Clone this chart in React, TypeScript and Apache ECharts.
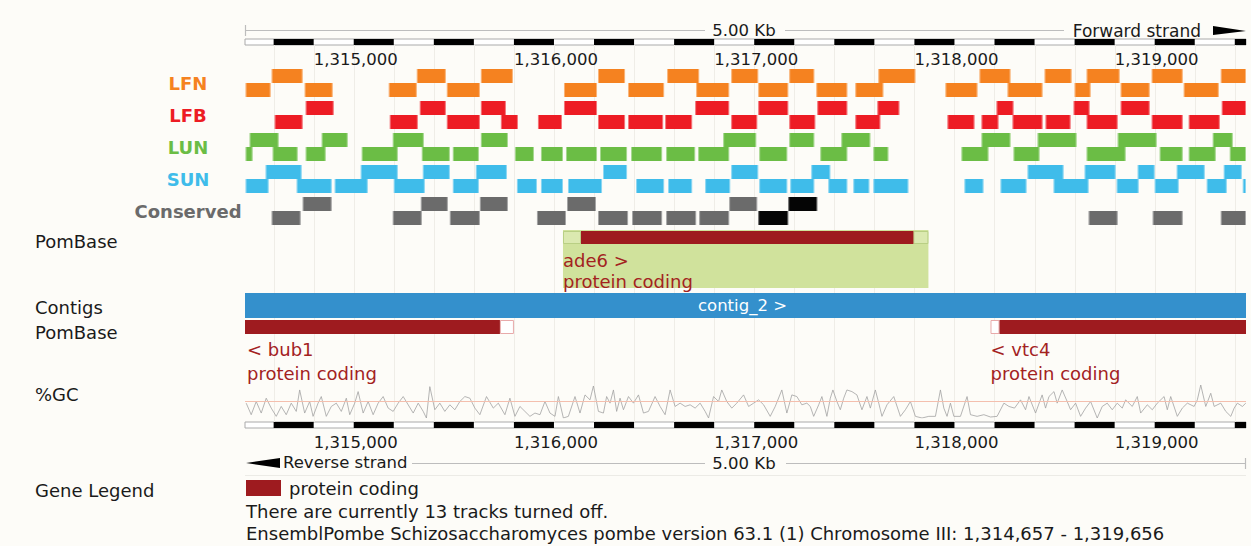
import React, { useEffect, useRef } from "react";
import * as echarts from "echarts";

const FONT = '"DejaVu Sans", sans-serif';
const VIEW_START = 1314657;
const VIEW_END = 1319656;
const tickLabels = [1315000, 1316000, 1317000, 1318000, 1319000];
const rulerBlackStarts = [1314800, 1315200, 1315600, 1316000, 1316400, 1316800, 1317200, 1317600, 1318000, 1318400, 1318800, 1319200, 1319600];
const RULER_STEP = 200;

const trackNames = ["LFN", "LFB", "LUN", "SUN", "Conserved"];
const trackColors = ["#f58220", "#ed1c24", "#6bbd45", "#3fbcea", "#6b6b6b"];
const conservedHighColor = "#050505";

// [start, end, row(0 upper / 1 lower)]
const lfnBlocks = [
  [1314790, 1314945, 0], [1315515, 1315660, 0], [1315835, 1315995, 0], [1316420, 1316555, 0], [1316765, 1316925, 0],
  [1317085, 1317220, 0], [1317375, 1317500, 0], [1317820, 1318005, 0], [1318325, 1318480, 0], [1318650, 1318785, 0],
  [1318860, 1319025, 0], [1319185, 1319340, 0], [1319530, 1319656, 0],
  [1314660, 1314785, 1], [1314955, 1315095, 1], [1315375, 1315515, 1], [1315665, 1315830, 1], [1316250, 1316415, 1],
  [1316570, 1316750, 1], [1316910, 1317075, 1], [1317220, 1317370, 1], [1317510, 1317665, 1], [1317705, 1317845, 1],
  [1318155, 1318315, 1], [1318465, 1318640, 1], [1318800, 1318880, 1], [1319030, 1319175, 1], [1319345, 1319520, 1],
];
const lfbBlocks = [
  [1314960, 1315100, 0], [1315530, 1315660, 0], [1315835, 1315960, 0], [1316250, 1316415, 0], [1316905, 1317075, 0],
  [1317220, 1317370, 0], [1317515, 1317665, 0], [1317815, 1317925, 0], [1318410, 1318495, 0], [1318795, 1318875, 0],
  [1319030, 1319175, 0], [1319535, 1319656, 0],
  [1314805, 1314945, 1], [1315380, 1315520, 1], [1315665, 1315830, 1], [1315935, 1316020, 1], [1316120, 1316240, 1],
  [1316420, 1316555, 1], [1316570, 1316745, 1], [1316755, 1316890, 1], [1317085, 1317215, 1], [1317375, 1317505, 1],
  [1317705, 1317830, 1], [1318165, 1318300, 1], [1318335, 1318420, 1], [1318490, 1318640, 1], [1318655, 1318780, 1],
  [1318860, 1319015, 1], [1319185, 1319340, 1], [1319370, 1319525, 1],
];
const lunBlocks = [
  [1314680, 1314825, 0], [1315040, 1315170, 0], [1315395, 1315550, 0], [1315835, 1315970, 0], [1317045, 1317210, 0],
  [1317375, 1317500, 0], [1317635, 1317780, 0], [1318335, 1318480, 0], [1318615, 1318810, 0], [1319015, 1319210, 0],
  [1319490, 1319590, 0],
  [1314660, 1314695, 1], [1314795, 1314920, 1], [1314960, 1315060, 1], [1315240, 1315420, 1], [1315540, 1315680, 1],
  [1315695, 1315825, 1], [1316005, 1316100, 1], [1316135, 1316245, 1], [1316260, 1316415, 1], [1316430, 1316565, 1],
  [1316585, 1316740, 1], [1316760, 1316905, 1], [1316920, 1317075, 1], [1317225, 1317365, 1], [1317530, 1317665, 1],
  [1317795, 1317870, 1], [1318235, 1318370, 1], [1318495, 1318625, 1], [1318860, 1319055, 1], [1319225, 1319340, 1],
  [1319370, 1319505, 1], [1319575, 1319656, 1],
];
const sunBlocks = [
  [1314760, 1314940, 0], [1315235, 1315420, 0], [1315545, 1315680, 0], [1315810, 1315965, 0], [1316445, 1316565, 0],
  [1317085, 1317220, 0], [1317485, 1317580, 0], [1318565, 1318745, 0], [1318850, 1319005, 0], [1319115, 1319200, 0],
  [1319310, 1319450, 0], [1319545, 1319635, 0],
  [1314660, 1314775, 1], [1314915, 1315090, 1], [1315105, 1315270, 1], [1315400, 1315555, 1], [1315695, 1315825, 1],
  [1316015, 1316115, 1], [1316135, 1316245, 1], [1316270, 1316440, 1], [1316610, 1316750, 1], [1316770, 1316890, 1],
  [1316955, 1317080, 1], [1317225, 1317365, 1], [1317380, 1317500, 1], [1317570, 1317665, 1], [1317695, 1317775, 1],
  [1317795, 1317970, 1], [1318250, 1318345, 1], [1318430, 1318560, 1], [1318695, 1318870, 1], [1319010, 1319120, 1],
  [1319200, 1319320, 1], [1319460, 1319560, 1], [1319640, 1319656, 1],
];
// [start, end, row, level(1 normal / 2 high)]
const conservedBlocks = [
  [1314945, 1315090, 0, 1], [1315535, 1315670, 0, 1], [1315830, 1315970, 0, 1], [1316265, 1316410, 0, 1],
  [1317075, 1317215, 0, 1], [1317370, 1317515, 0, 2],
  [1314790, 1314935, 1, 1], [1315395, 1315540, 1, 1], [1315680, 1315830, 1, 1], [1316115, 1316260, 1, 1],
  [1316420, 1316570, 1, 1], [1316590, 1316740, 1, 1], [1316760, 1316910, 1, 1], [1316925, 1317075, 1, 1],
  [1317220, 1317370, 1, 2], [1318870, 1319015, 1, 1], [1319190, 1319340, 1, 1], [1319530, 1319656, 1, 1],
];
const trackBlocks = [lfnBlocks, lfbBlocks, lunBlocks, sunBlocks, conservedBlocks];

// genes: [start, end, cdsStart, cdsEnd]
const forwardGeneNames = ["ade6"];
const forwardGeneBiotypes = ["protein coding"];
const forwardGenes = [[1316245, 1318070, 1316335, 1317995]];
const reverseGeneNames = ["bub1", "vtc4"];
const reverseGeneBiotypes = ["protein coding", "protein coding"];
const reverseGenes = [
  [1314300, 1316000, 1314300, 1315930],
  [1318380, 1320300, 1318425, 1320300],
];
const contigNames = ["contig_2"];
const contigs = [[1300000, 1330000]];

// [position, %GC]
const gcPoints = [
  [1314663, 45], [1314688, 10], [1314713, 50], [1314738, 15], [1314763, 60], [1314788, 30], [1314813, 5], [1314838, 35],
  [1314863, 10], [1314888, 45], [1314913, 20], [1314930, 85], [1314955, 15], [1314980, 50], [1314997, 5], [1315022, 45],
  [1315038, 65], [1315063, 5], [1315088, 35], [1315113, 45], [1315138, 20], [1315163, 60], [1315180, 10], [1315205, 45],
  [1315222, 80], [1315247, 15], [1315272, 50], [1315297, 10], [1315322, 45], [1315347, 65], [1315372, 30], [1315397, 20],
  [1315422, 45], [1315447, 65], [1315472, 40], [1315497, 15], [1315522, 45], [1315547, 20], [1315563, 0], [1315580, 95],
  [1315605, 25], [1315630, 45], [1315655, 20], [1315680, 40], [1315705, 25], [1315730, 50], [1315755, 65], [1315780, 60],
  [1315805, 30], [1315830, 10], [1315863, 65], [1315897, 30], [1315922, 45],
  [1315955, 10], [1315980, 60], [1316005, 5], [1316030, 35], [1316055, 20], [1316080, 5], [1316105, 15], [1316130, 10],
  [1316155, 50], [1316180, 15], [1316205, 5], [1316222, 65], [1316247, 0], [1316272, 5], [1316305, 65], [1316330, 15],
  [1316355, 70], [1316380, 55], [1316397, 97], [1316422, 20], [1316447, 15], [1316463, 65], [1316480, 45], [1316497, 85],
  [1316513, 20], [1316530, 60], [1316547, 25], [1316572, 65], [1316597, 45], [1316622, 70], [1316647, 15], [1316672, 20],
  [1316705, 65], [1316730, 35], [1316755, 10], [1316780, 85], [1316805, 35], [1316830, 45], [1316855, 35], [1316880, 40],
  [1316905, 30], [1316930, 45], [1316955, 20], [1316972, 0], [1316997, 65], [1317022, 50], [1317038, 85], [1317063, 50],
  [1317088, 30], [1317113, 45], [1317147, 70], [1317172, 35],
  [1317197, 45], [1317222, 55], [1317247, 40], [1317280, 5], [1317305, 35], [1317338, 85], [1317363, 15], [1317388, 70],
  [1317413, 65], [1317438, 40], [1317463, 45], [1317480, 35], [1317497, 5], [1317522, 40], [1317538, 65], [1317563, 5],
  [1317580, 60], [1317593, 85], [1317613, 50], [1317630, 25], [1317647, 60], [1317663, 85], [1317688, 80], [1317713, 70],
  [1317738, 25], [1317763, 65], [1317780, 30], [1317805, 85], [1317822, 45], [1317838, 5], [1317863, 40], [1317897, 65],
  [1317930, 5], [1317955, 25], [1317980, 50], [1318005, 5], [1318038, 0], [1318072, 5], [1318105, 5], [1318130, 85],
  [1318147, 30], [1318163, 5], [1318180, 45], [1318197, 5], [1318230, 5], [1318263, 65], [1318280, 10], [1318313, 5],
  [1318347, 10], [1318380, 3], [1318413, 5], [1318447, 45], [1318472, 35],
  [1318500, 30], [1318530, 55], [1318555, 25], [1318572, 65], [1318605, 15], [1318638, 70], [1318655, 30], [1318672, 65],
  [1318697, 80], [1318713, 45], [1318738, 85], [1318763, 50], [1318780, 25], [1318805, 45], [1318830, 5], [1318855, 30],
  [1318880, 50], [1318913, 0], [1318938, 35], [1318963, 45], [1318988, 25], [1319013, 45], [1319038, 30], [1319055, 55],
  [1319088, 35], [1319113, 65], [1319130, 15], [1319163, 40], [1319188, 25], [1319213, 45], [1319247, 65], [1319263, 25],
  [1319280, 65], [1319313, 5], [1319338, 30], [1319363, 45], [1319397, 35], [1319413, 55], [1319430, 100], [1319455, 35],
  [1319480, 75], [1319497, 35], [1319530, 45], [1319555, 20], [1319580, 5], [1319597, 30], [1319613, 45], [1319638, 35],
  [1319655, 45],
];
const GC_REFERENCE = 50;

const fmt = (v: number) => Math.round(v).toLocaleString("en-US");
const GENE_RED = "#9e1b1f";
const GENE_TEXT = "#a3221f";

export default function App() {
  const ref = useRef<HTMLDivElement>(null);
  useEffect(() => {
    if (!ref.current) return;
    const chart = echarts.init(ref.current, undefined, { renderer: "svg" });

    const L = 245;
    const W = 1001;
    const grids = [
      { left: L, width: W, top: 39, height: 6, show: true, backgroundColor: "#ffffff", borderColor: "#aaaaaa", borderWidth: 1 }, // 0 top ruler
      { left: L, width: W, top: 67, height: 160 }, // 1 tracks
      { left: L, width: W, top: 231, height: 13 }, // 2 forward genes
      { left: L, width: W, top: 293, height: 25 }, // 3 contigs
      { left: L, width: W, top: 320, height: 14 }, // 4 reverse genes
      { left: L, width: W, top: 385, height: 33 }, // 5 GC
      { left: L, width: W, top: 422, height: 6, show: true, backgroundColor: "#ffffff", borderColor: "#aaaaaa", borderWidth: 1 }, // 6 bottom ruler
      { left: L, width: W, top: 45, height: 377 }, // 7 background lines
    ];

    const hiddenX = (gridIndex: number) => ({ type: "value", gridIndex, min: VIEW_START, max: VIEW_END, show: false });
    const rulerX = (gridIndex: number, margin: number) => ({
      type: "value", gridIndex, min: VIEW_START, max: VIEW_END, position: "bottom",
      axisLine: { show: false }, axisTick: { show: false }, splitLine: { show: false },
      axisLabel: { customValues: tickLabels, formatter: fmt, align: "left", margin, fontSize: 16.5, color: "#1a1a1a", fontFamily: FONT },
    });
    const hiddenY = (gridIndex: number, min = 0, max = 1) => ({ type: "value", gridIndex, min, max, show: false });

    const xAxis = [rulerX(0, 6), hiddenX(1), hiddenX(2), hiddenX(3), hiddenX(4), hiddenX(5), rulerX(6, 6), hiddenX(7)];
    const yAxis = [
      hiddenY(0),
      {
        type: "category", gridIndex: 1, inverse: true,
        data: trackNames,
        axisLine: { show: false }, axisTick: { show: false }, splitLine: { show: false },
        axisLabel: {
          margin: 57, align: "center", fontWeight: "bold", fontSize: 18, fontFamily: FONT,
          color: (_v: any, idx: number) => trackColors[idx],
        },
      },
      hiddenY(2), hiddenY(3), hiddenY(4), hiddenY(5, 0, 100), hiddenY(6), hiddenY(7),
    ];

    const clampX = (cs: any, px: number) => Math.max(cs.x, Math.min(cs.x + cs.width, px));

    const rulerRender = (params: any, api: any) => {
      const cs = params.coordSys;
      const x0 = clampX(cs, api.coord([api.value(0), 0])[0]);
      const x1 = clampX(cs, api.coord([api.value(1), 0])[0]);
      if (x1 - x0 <= 0) return null;
      return { type: "rect", shape: { x: x0, y: cs.y, width: x1 - x0, height: cs.height }, style: { fill: "#000" } };
    };

    const gridLinePositions = rulerBlackStarts.flatMap((s) => [s, s + RULER_STEP]).filter((v) => v > VIEW_START && v < VIEW_END);

    const bgLineRender = (params: any, api: any) => {
      const cs = params.coordSys;
      const x = Math.round(api.coord([api.value(0), 0])[0]) + 0.5;
      return { type: "line", shape: { x1: x, y1: cs.y, x2: x, y2: cs.y + cs.height }, style: { stroke: "#efede7", lineWidth: 1 } };
    };

    const trackRender = (trackIdx: number) => (params: any, api: any) => {
      const cs = params.coordSys;
      const s = api.value(0), e = api.value(1), row = api.value(2), lvl = api.value(3);
      const p0 = api.coord([s, trackIdx]);
      const p1 = api.coord([e, trackIdx]);
      const x0 = clampX(cs, p0[0]);
      const x1 = clampX(cs, p1[0]);
      const cy = p0[1];
      const y = row === 0 ? cy - 14 : cy;
      const fill = lvl === 2 ? conservedHighColor : trackColors[trackIdx];
      return {
        type: "group",
        children: [
          { type: "rect", shape: { x: x0, y, width: x1 - x0, height: 14 }, style: { fill } },
          { type: "line", shape: { x1: x0 + 0.5, y1: y, x2: x0 + 0.5, y2: y + 14 }, style: { stroke: "rgba(255,255,255,0.4)", lineWidth: 1 } },
          { type: "line", shape: { x1: x1 - 0.5, y1: y, x2: x1 - 0.5, y2: y + 14 }, style: { stroke: "rgba(255,255,255,0.4)", lineWidth: 1 } },
        ],
      };
    };

    const forwardGeneRender = (params: any, api: any) => {
      const cs = params.coordSys;
      const i = params.dataIndex;
      const xs = clampX(cs, api.coord([api.value(0), 0])[0]);
      const xe = clampX(cs, api.coord([api.value(1), 0])[0]);
      const xc0 = clampX(cs, api.coord([api.value(2), 0])[0]);
      const xc1 = clampX(cs, api.coord([api.value(3), 0])[0]);
      const y = cs.y, h = cs.height;
      const tx = Math.max(xs, cs.x + 2);
      return {
        type: "group",
        children: [
          { type: "rect", shape: { x: xs, y: y - 1, width: xe - xs, height: 58 }, style: { fill: "#d0e29c" } },
          { type: "rect", shape: { x: xs + 0.5, y: y + 0.5, width: xc0 - xs - 1, height: h - 1 }, style: { fill: "#dbe9b0", stroke: "#b9cf84", lineWidth: 1 } },
          { type: "rect", shape: { x: xc1 + 0.5, y: y + 0.5, width: xe - xc1 - 1, height: h - 1 }, style: { fill: "#dbe9b0", stroke: "#b9cf84", lineWidth: 1 } },
          { type: "rect", shape: { x: xc0, y, width: xc1 - xc0, height: h }, style: { fill: GENE_RED } },
          { type: "text", style: { x: tx, y: y + h / 2 + 23, text: forwardGeneNames[i] + " >", fill: GENE_TEXT, fontSize: 18, fontFamily: FONT, verticalAlign: "middle", align: "left" } },
          { type: "text", style: { x: tx, y: y + h / 2 + 44, text: forwardGeneBiotypes[i], fill: GENE_TEXT, fontSize: 18, fontFamily: FONT, verticalAlign: "middle", align: "left" } },
        ],
      };
    };

    const reverseGeneRender = (params: any, api: any) => {
      const cs = params.coordSys;
      const i = params.dataIndex;
      const xs = clampX(cs, api.coord([api.value(0), 0])[0]);
      const xe = clampX(cs, api.coord([api.value(1), 0])[0]);
      const xc0 = clampX(cs, api.coord([api.value(2), 0])[0]);
      const xc1 = clampX(cs, api.coord([api.value(3), 0])[0]);
      const y = cs.y, h = cs.height;
      const tx = Math.max(xs, cs.x + 2);
      const children: any[] = [];
      if (xc0 - xs > 1) children.push({ type: "rect", shape: { x: xs + 0.5, y: y + 0.5, width: xc0 - xs - 1, height: h - 1 }, style: { fill: "#ffffff", stroke: "#e8aaaa", lineWidth: 1 } });
      if (xe - xc1 > 1) children.push({ type: "rect", shape: { x: xc1 + 0.5, y: y + 0.5, width: xe - xc1 - 1, height: h - 1 }, style: { fill: "#ffffff", stroke: "#e8aaaa", lineWidth: 1 } });
      children.push({ type: "rect", shape: { x: xc0, y, width: xc1 - xc0, height: h }, style: { fill: GENE_RED } });
      children.push({ type: "text", style: { x: tx, y: y + h / 2 + 22.5, text: "< " + reverseGeneNames[i], fill: GENE_TEXT, fontSize: 18, fontFamily: FONT, verticalAlign: "middle", align: "left" } });
      children.push({ type: "text", style: { x: tx, y: y + h / 2 + 46, text: reverseGeneBiotypes[i], fill: GENE_TEXT, fontSize: 18, fontFamily: FONT, verticalAlign: "middle", align: "left" } });
      return { type: "group", children };
    };

    const contigRender = (params: any, api: any) => {
      const cs = params.coordSys;
      const i = params.dataIndex;
      const xs = clampX(cs, api.coord([api.value(0), 0])[0]);
      const xe = clampX(cs, api.coord([api.value(1), 0])[0]);
      return {
        type: "group",
        children: [
          { type: "rect", shape: { x: xs, y: cs.y, width: xe - xs, height: cs.height }, style: { fill: "#3490cc" } },
          { type: "text", style: { x: (xs + xe) / 2 - 3, y: cs.y + cs.height / 2, text: contigNames[i] + " >", fill: "#ffffff", fontSize: 16.5, fontFamily: FONT, verticalAlign: "middle", align: "center" } },
        ],
      };
    };

    const series: any[] = [
      { type: "custom", xAxisIndex: 7, yAxisIndex: 7, z: 0, data: gridLinePositions.map((v) => [v]), encode: { x: 0 }, renderItem: bgLineRender, silent: true },
      { type: "custom", xAxisIndex: 0, yAxisIndex: 0, z: 3, data: rulerBlackStarts.map((s) => [s, s + RULER_STEP]), encode: { x: [0, 1] }, renderItem: rulerRender, silent: true },
      { type: "custom", xAxisIndex: 6, yAxisIndex: 6, z: 3, data: rulerBlackStarts.map((s) => [s, s + RULER_STEP]), encode: { x: [0, 1] }, renderItem: rulerRender, silent: true },
      ...trackBlocks.map((blocks, t) => ({
        type: "custom", name: trackNames[t], xAxisIndex: 1, yAxisIndex: 1, z: 3,
        data: blocks, encode: { x: [0, 1], y: 2 }, renderItem: trackRender(t), silent: true,
      })),
      { type: "custom", xAxisIndex: 2, yAxisIndex: 2, z: 3, data: forwardGenes, encode: { x: [0, 1] }, renderItem: forwardGeneRender, silent: true },
      { type: "custom", xAxisIndex: 3, yAxisIndex: 3, z: 3, data: contigs, encode: { x: [0, 1] }, renderItem: contigRender, silent: true },
      { type: "custom", xAxisIndex: 4, yAxisIndex: 4, z: 3, data: reverseGenes, encode: { x: [0, 1] }, renderItem: reverseGeneRender, silent: true },
      {
        type: "line", xAxisIndex: 5, yAxisIndex: 5, z: 3, data: gcPoints, showSymbol: false, symbol: "none",
        lineStyle: { color: "#a2a2a2", width: 0.8 }, silent: true,
        markLine: { silent: true, symbol: "none", label: { show: false }, lineStyle: { color: "#f4bfae", type: "solid", width: 1 }, data: [{ yAxis: GC_REFERENCE }] },
      },
    ];

    const txt = (x: number, y: number, text: string, extra: any = {}) => ({
      type: "text", x, y, silent: true,
      style: { text, fill: "#1a1a1a", fontSize: 18, fontFamily: FONT, verticalAlign: "middle", align: "left", ...extra },
    });
    const ln = (x1: number, y1: number, x2: number, y2: number, stroke = "#bdbdbd") => ({
      type: "line", silent: true, shape: { x1, y1, x2, y2 }, style: { stroke, lineWidth: 1.2 },
    });
    const spanKb = ((VIEW_END - VIEW_START + 1) / 1000).toFixed(2) + " Kb";

    const graphic = [
      // top scale bar
      ln(245, 30.5, 705, 30.5), ln(785, 30.5, 1064, 30.5), ln(245.5, 25, 245.5, 36),
      txt(744, 30.5, spanKb, { align: "center", fontSize: 16.5 }),
      txt(1201, 30.5, "Forward strand", { align: "right", fontSize: 17 }),
      { type: "polygon", silent: true, shape: { points: [[1213, 26], [1246, 31], [1213, 35]] }, style: { fill: "#000" } },
      // left labels
      txt(35, 241, "PomBase"), txt(35, 307, "Contigs"), txt(35, 332, "PomBase"), txt(35, 394, "%GC"), txt(35, 490, "Gene Legend"),
      // bottom scale bar
      { type: "polygon", silent: true, shape: { points: [[246, 463], [280, 458], [280, 468]] }, style: { fill: "#000" } },
      txt(283, 462.5, "Reverse strand", { fontSize: 16.5 }),
      ln(412, 463.5, 705, 463.5), ln(786, 463.5, 1246, 463.5), ln(1245.5, 458, 1245.5, 469),
      txt(744, 463, spanKb, { align: "center", fontSize: 16.5 }),
      ln(245, 475.5, 1246, 475.5, "#ecebe6"),
      // legend + footer
      { type: "rect", silent: true, shape: { x: 246, y: 480, width: 35, height: 16 }, style: { fill: GENE_RED } },
      txt(289, 488, "protein coding"),
      txt(246, 511, "There are currently 13 tracks turned off."),
      txt(246, 533, `EnsemblPombe Schizosaccharomyces pombe version 63.1 (1) Chromosome III: ${fmt(VIEW_START)} - ${fmt(VIEW_END)}`),
    ];

    chart.setOption({
      animation: false,
      backgroundColor: "#fdfcf8",
      textStyle: { fontFamily: FONT },
      grid: grids,
      xAxis,
      yAxis,
      series,
      graphic,
    });
    return () => chart.dispose();
  }, []);

  return <div ref={ref} style={{ position: "absolute", left: 0, top: 0, width: 1251, height: 546 }} />;
}
